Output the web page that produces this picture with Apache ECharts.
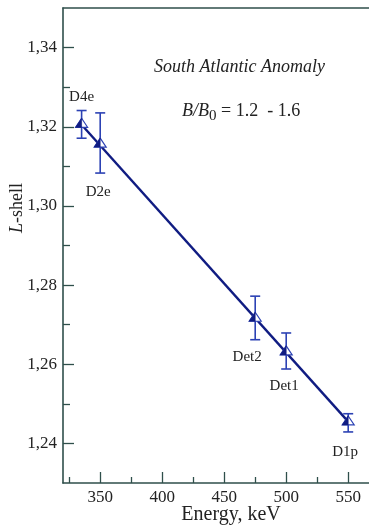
<!DOCTYPE html>
<html>
<head>
<meta charset="utf-8">
<script src="https://cdn.jsdelivr.net/npm/echarts@6/dist/echarts.min.js"></script>
<style>
html,body{margin:0;padding:0;background:#fff;}
#c{width:369px;height:527px;}
</style>
</head>
<body>
<div id="c"></div>
<script>
// ---- data ----
const detectors = ['D4e', 'D2e', 'Det2', 'Det1', 'D1p'];
const energies  = [335, 350, 475, 500, 550];          // keV
const lShell    = [1.3210, 1.3160, 1.2720, 1.2635, 1.2458];
const errLow    = [1.3171, 1.3083, 1.2662, 1.2588, 1.2429];
const errHigh   = [1.3241, 1.3235, 1.2772, 1.2679, 1.2475];
const fitEnergy = [335, 550];
const fitL      = [1.3205, 1.2455];
const xMajorTicks = [350, 400, 450, 500, 550];
const xMinorTicks = [325, 375, 425, 475, 525];
const yMajorTicks = [1.24, 1.26, 1.28, 1.30, 1.32, 1.34];
const yMinorTicks = [1.25, 1.27, 1.29, 1.31, 1.33];

// label placement (pixel offsets from each point)
const labelOffsets = [[0, -26], [-2, 49], [-8, 40], [-2, 36], [-3, 32]];

const axisColor = '#2f4f4b';
const navy = '#101c82';
const ebColor = '#2c42b4';
const textColor = '#222222';
const serif = '"Liberation Serif", "DejaVu Serif", serif';

const chart = echarts.init(document.getElementById('c'), null, {renderer: 'canvas'});

function renderItem(params, api) {
  const i = params.dataIndex;
  const x = api.value(0), y = api.value(1), lo = api.value(2), hi = api.value(3);
  const p = api.coord([x, y]);
  const pl = api.coord([x, lo]);
  const ph = api.coord([x, hi]);
  const cap = 5, w = 6, h = 9;
  const ay = p[1] - h / 2, by = p[1] + h / 2, ax = p[0];
  const off = labelOffsets[i];
  return {
    type: 'group',
    children: [
      {type: 'line', shape: {x1: ax, y1: pl[1], x2: ax, y2: ph[1]}, style: {stroke: ebColor, lineWidth: 1.6}},
      {type: 'line', shape: {x1: ax - cap, y1: pl[1], x2: ax + cap, y2: pl[1]}, style: {stroke: ebColor, lineWidth: 1.6}},
      {type: 'line', shape: {x1: ax - cap, y1: ph[1], x2: ax + cap, y2: ph[1]}, style: {stroke: ebColor, lineWidth: 1.6}},
      {type: 'polygon', shape: {points: [[ax, ay], [ax + w, by], [ax - w, by]]}, style: {fill: '#fff', stroke: ebColor, lineWidth: 1.2}},
      {type: 'polygon', shape: {points: [[ax, ay], [ax, by], [ax - w, by]]}, style: {fill: navy, stroke: navy, lineWidth: 0.6}},
      {type: 'text', x: ax + off[0], y: p[1] + off[1],
        style: {text: detectors[i], fill: textColor, font: '15px ' + serif, align: 'center', verticalAlign: 'middle'}}
    ]
  };
}

const pointData = energies.map((e, i) => [e, lShell[i], errLow[i], errHigh[i]]);

const fmtY = v => v.toFixed(2).replace('.', ',');

const option = {
  backgroundColor: '#fff',
  animation: false,
  grid: {left: 63, top: 8, width: 310, height: 475, outerBoundsMode: 'none', containLabel: false},
  xAxis: [
    {
      type: 'value', min: 320, max: 570, position: 'bottom',
      axisLine: {show: true, lineStyle: {color: axisColor, width: 1.6}},
      axisTick: {show: true, inside: true, length: 11, customValues: xMajorTicks, lineStyle: {color: axisColor, width: 1.3}},
      axisLabel: {show: true, customValues: xMajorTicks, margin: 6, color: textColor, fontFamily: serif, fontSize: 17},
      splitLine: {show: false}
    },
    {
      type: 'value', min: 320, max: 570, position: 'bottom',
      axisLine: {show: false},
      axisTick: {show: true, inside: true, length: 6, customValues: xMinorTicks, lineStyle: {color: axisColor, width: 1.3}},
      axisLabel: {show: false},
      splitLine: {show: false}
    },
    {
      type: 'value', min: 320, max: 570, position: 'top',
      axisLine: {show: true, lineStyle: {color: axisColor, width: 1.6}},
      axisTick: {show: false}, axisLabel: {show: false}, splitLine: {show: false}
    }
  ],
  yAxis: [
    {
      type: 'value', min: 1.23, max: 1.35, position: 'left',
      axisLine: {show: true, lineStyle: {color: axisColor, width: 1.6}},
      axisTick: {show: true, inside: true, length: 11, customValues: yMajorTicks, lineStyle: {color: axisColor, width: 1.3}},
      axisLabel: {show: true, customValues: yMajorTicks, margin: 6, formatter: fmtY, color: textColor, fontFamily: serif, fontSize: 17},
      splitLine: {show: false}
    },
    {
      type: 'value', min: 1.23, max: 1.35, position: 'left',
      axisLine: {show: false},
      axisTick: {show: true, inside: true, length: 7, customValues: yMinorTicks, lineStyle: {color: axisColor, width: 1.3}},
      axisLabel: {show: false},
      splitLine: {show: false}
    }
  ],
  series: [
    {
      type: 'line', xAxisIndex: 0, yAxisIndex: 0,
      data: fitEnergy.map((e, i) => [e, fitL[i]]),
      symbol: 'none', lineStyle: {color: navy, width: 2.4}, z: 2
    },
    {
      type: 'custom', xAxisIndex: 0, yAxisIndex: 0,
      renderItem: renderItem, data: pointData, z: 3
    }
  ],
  graphic: [
    {
      type: 'text', left: 154, top: 58,
      style: {text: 'South Atlantic Anomaly', fontFamily: serif, fontStyle: 'italic', fontSize: 18, fill: textColor}
    },
    {
      type: 'text', left: 182, top: 102,
      style: {
        text: '{i|B/B}{s|0}{n| = 1.2  - 1.6}',
        rich: {
          i: {fontFamily: serif, fontStyle: 'italic', fontSize: 18, fill: textColor, lineHeight: 22, verticalAlign: 'top'},
          s: {fontFamily: serif, fontSize: 15, fill: textColor, lineHeight: 22, verticalAlign: 'bottom'},
          n: {fontFamily: serif, fontSize: 18, fill: textColor, lineHeight: 22, verticalAlign: 'top'}
        }
      }
    },
    {
      type: 'text', x: 17, y: 208, rotation: Math.PI / 2,
      style: {
        text: '{i|L}{n|-shell}', align: 'center', verticalAlign: 'middle',
        rich: {
          i: {fontFamily: serif, fontStyle: 'italic', fontSize: 18, fill: textColor},
          n: {fontFamily: serif, fontSize: 18, fill: textColor}
        }
      }
    },
    {
      type: 'text', x: 231, y: 515,
      style: {text: 'Energy, keV', fontFamily: serif, fontSize: 20, fill: textColor, align: 'center', verticalAlign: 'middle'}
    }
  ]
};
chart.setOption(option);
</script>
</body>
</html>
